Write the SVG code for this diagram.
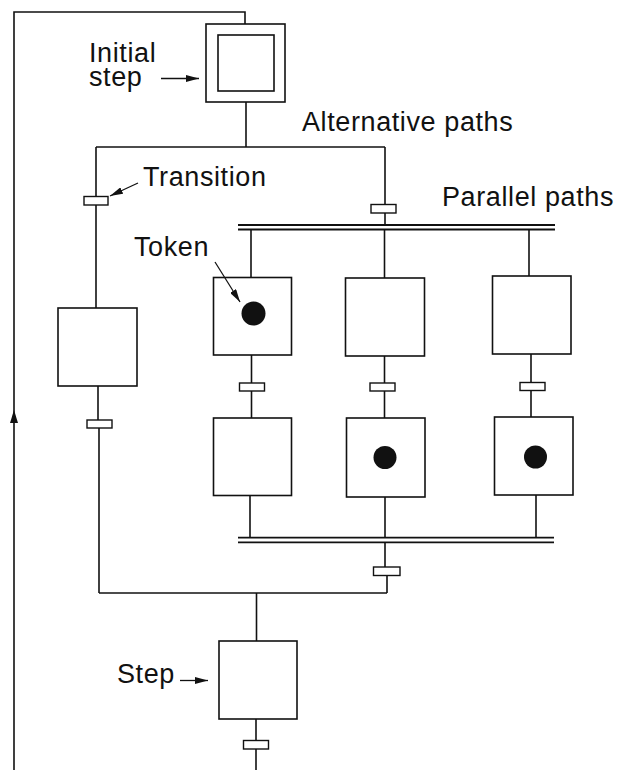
<svg xmlns="http://www.w3.org/2000/svg" width="620" height="771" viewBox="0 0 620 771">
<style>
.ln{fill:none;stroke:#111;stroke-width:1.6}
.bar{fill:none;stroke:#111;stroke-width:1.8}
.box{fill:#fff;stroke:#111;stroke-width:1.6}
.tr{fill:#fff;stroke:#111;stroke-width:1.4}
.tok{fill:#111}
.lbl{font-family:"Liberation Sans",Arial,sans-serif;font-size:27px;letter-spacing:0.6px;fill:#111}
.ptr{fill:none;stroke:#111;stroke-width:1.3}
</style>
<defs>
<marker id="ah" viewBox="0 0 13 7" refX="13" refY="3.5" markerWidth="13" markerHeight="7" markerUnits="userSpaceOnUse" orient="auto">
<path d="M0,0 L13,3.5 L0,7 Z" fill="#111"/>
</marker>
</defs>
<g id="connectors">
<path class="ln" d="M14,770 V12 H245 V24"/>
<path d="M14,410 L10,423 L18,423 Z" fill="#111"/>
<path class="ln" d="M246,102 V147"/>
<path class="ln" d="M96,147 H385"/>
<path class="ln" d="M96,147 V308"/>
<path class="ln" d="M98,386 V424"/>
<path class="ln" d="M99,424 V593"/>
<path class="ln" d="M385,147 V226"/>
<path class="bar" d="M238,225 H555 M238,229.5 H555"/>
<path class="ln" d="M251,229.5 V277"/>
<path class="ln" d="M384.5,229.5 V278"/>
<path class="ln" d="M529,229.5 V276"/>
<path class="ln" d="M251.5,355 V418"/>
<path class="ln" d="M384.5,356 V418"/>
<path class="ln" d="M531,354 V417"/>
<path class="ln" d="M250,495 V538"/>
<path class="ln" d="M385,497 V538"/>
<path class="ln" d="M536,495 V538"/>
<path class="bar" d="M238,537.7 H554 M238,542.3 H554"/>
<path class="ln" d="M385,542 V571 M387,571 V593"/>
<path class="ln" d="M99,593 H387"/>
<path class="ln" d="M256.5,593 V641"/>
<path class="ln" d="M256,719 V770"/>
<rect class="tr" x="84" y="196.5" width="24" height="8.5"/>
<rect class="tr" x="371" y="204.5" width="25" height="8.5"/>
<rect class="tr" x="87" y="420" width="25" height="8"/>
<rect class="tr" x="239.5" y="383" width="25" height="8"/>
<rect class="tr" x="370" y="383" width="25" height="8"/>
<rect class="tr" x="520" y="382.5" width="25" height="8"/>
<rect class="tr" x="373.5" y="567" width="26.5" height="8.5"/>
<rect class="tr" x="243.5" y="740.5" width="25" height="8.5"/>
</g>
<g id="initial-step">
<rect class="box" x="206" y="24" width="79" height="78"/>
<rect class="box" x="218" y="35" width="56" height="56"/>
</g>
<g id="step-left">
<rect class="box" x="58" y="308" width="79" height="78"/>
</g>
<g id="step-p1a">
<rect class="box" x="213.5" y="277.5" width="78" height="77.5"/>
<circle class="tok" cx="253.5" cy="313.5" r="12"/>
</g>
<g id="step-p2a">
<rect class="box" x="345.5" y="278" width="79" height="78"/>
</g>
<g id="step-p3a">
<rect class="box" x="492.5" y="276" width="78.5" height="78"/>
</g>
<g id="step-p1b">
<rect class="box" x="213.5" y="418" width="78" height="77.5"/>
</g>
<g id="step-p2b">
<rect class="box" x="346.5" y="418" width="78.5" height="79"/>
<circle class="tok" cx="385" cy="457.5" r="11.5"/>
</g>
<g id="step-p3b">
<rect class="box" x="494.5" y="417" width="78.5" height="78"/>
<circle class="tok" cx="535.5" cy="457" r="11.5"/>
</g>
<g id="step-bottom">
<rect class="box" x="219" y="641" width="78" height="78"/>
</g>
<g id="labels">
<text class="lbl" x="89" y="62">Initial</text>
<text class="lbl" x="89" y="86">step</text>
<line class="ptr" x1="161" y1="78.5" x2="199" y2="78.5" marker-end="url(#ah)"/>
<text class="lbl" x="302" y="131">Alternative paths</text>
<text class="lbl" x="143" y="186">Transition</text>
<line class="ptr" x1="138" y1="183" x2="110" y2="196" marker-end="url(#ah)"/>
<text class="lbl" x="442" y="206">Parallel paths</text>
<text class="lbl" x="134" y="256">Token</text>
<line class="ptr" x1="215" y1="262" x2="240" y2="302" marker-end="url(#ah)"/>
<text class="lbl" x="117" y="683">Step</text>
<line class="ptr" x1="180" y1="680.5" x2="208" y2="680.5" marker-end="url(#ah)"/>
</g>
</svg>
